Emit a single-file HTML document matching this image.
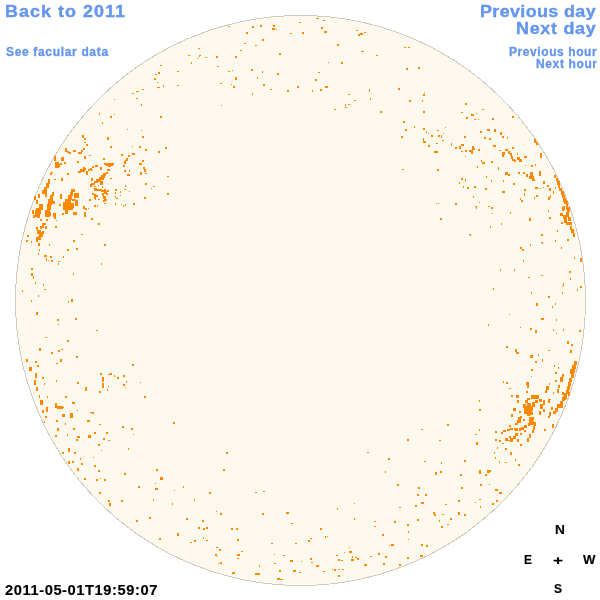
<!DOCTYPE html>
<html><head><meta charset="utf-8">
<style>
html,body{margin:0;padding:0;background:#fff;width:600px;height:600px;overflow:hidden;}
body{position:relative;font-family:"Liberation Sans",sans-serif;font-weight:bold;}
.t{position:absolute;white-space:nowrap;line-height:1;transform-origin:0 0;will-change:transform;}
svg{position:absolute;left:0;top:0;}
</style></head><body>
<svg width="600" height="600" viewBox="0 0 600 600">
<circle cx="300.5" cy="300.5" r="285" fill="#FEF9EE" stroke="#D0CBC0" stroke-width="1" shape-rendering="crispEdges"/>
<path fill="#FF8800" shape-rendering="crispEdges" d="M228 26h2v1h-2zM252 26h2v2h-2zM260 25h2v2h-2zM273 25h2v2h-2zM272 28h3v2h-3zM276 29h1v1h-1zM299 22h2v1h-2zM246 32h2v2h-2zM290 33h2v1h-2zM262 39h2v2h-2zM244 43h2v1h-2zM255 45h2v1h-2zM240 50h2v1h-2zM279 53h2v2h-2zM200 55h1v1h-1zM205 57h2v1h-2zM216 56h2v2h-2zM235 56h2v2h-2zM217 66h2v1h-2zM228 71h2v1h-2zM232 70h1v1h-1zM251 69h2v2h-2zM262 71h1v2h-1zM277 73h2v2h-2zM235 77h2v3h-2zM257 77h1v2h-1zM220 83h2v1h-2zM231 84h1v1h-1zM233 86h2v2h-2zM263 84h2v2h-2zM270 89h2v1h-2zM287 90h2v2h-2zM297 86h2v2h-2zM252 93h1v2h-1zM221 105h1v1h-1zM198 48h2v1h-2zM188 55h2v1h-2zM199 55h1v2h-1zM197 58h1v1h-1zM191 62h1v2h-1zM160 65h2v1h-2zM177 71h2v1h-2zM158 72h2v2h-2zM155 74h2v1h-2zM154 78h2v2h-2zM157 82h1v1h-1zM163 85h1v2h-1zM157 87h3v1h-3zM177 85h2v1h-2zM142 89h2v1h-2zM136 91h3v1h-3zM132 93h2v1h-2zM136 98h2v1h-2zM141 104h1v2h-1zM114 99h1v1h-1zM316 18h3v1h-3zM323 20h2v1h-2zM321 27h2v2h-2zM324 31h3v2h-3zM302 32h2v2h-2zM356 30h2v1h-2zM360 33h3v2h-3zM358 34h2v2h-2zM364 32h2v1h-2zM337 44h2v2h-2zM361 51h3v1h-3zM376 55h2v1h-2zM328 62h1v1h-1zM341 62h2v2h-2zM318 72h2v1h-2zM315 79h2v2h-2zM325 86h3v2h-3zM320 89h2v2h-2zM312 90h1v2h-1zM369 89h1v3h-1zM398 88h2v2h-2zM348 94h2v1h-2zM370 98h1v2h-1zM354 100h2v1h-2zM345 104h1v2h-1zM348 104h2v1h-2zM345 107h2v1h-2zM334 109h2v1h-2zM404 47h2v1h-2zM408 47h2v1h-2zM406 68h2v2h-2zM418 67h2v2h-2zM424 92h1v1h-1zM423 94h2v2h-2zM409 100h2v2h-2zM422 100h1v2h-1zM465 103h2v2h-2zM482 109h2v1h-2zM110 116h2v2h-2zM114 114h1v1h-1zM102 122h1v2h-1zM160 116h2v2h-2zM127 129h1v1h-1zM141 130h1v1h-1zM142 136h2v2h-2zM107 137h2v3h-2zM110 146h2v2h-2zM132 146h1v1h-1zM139 146h2v2h-2zM145 149h2v2h-2zM158 151h2v2h-2zM165 147h2v2h-2zM103 158h2v2h-2zM121 154h2v2h-2zM128 155h2v2h-2zM132 153h3v2h-3zM126 158h2v3h-2zM139 163h3v2h-3zM142 160h2v2h-2zM143 167h2v2h-2zM144 169h2v3h-2zM140 172h2v3h-2zM145 173h2v1h-2zM167 176h2v1h-2zM145 183h2v2h-2zM153 186h2v1h-2zM151 188h1v1h-1zM167 193h2v2h-2zM144 197h2v2h-2zM82 135h2v3h-2zM84 138h2v2h-2zM84 142h2v1h-2zM86 144h2v2h-2zM65 148h2v4h-2zM67 151h2v2h-2zM69 152h2v2h-2zM73 150h3v2h-3zM78 152h4v2h-4zM81 150h2v2h-2zM83 148h2v2h-2zM84 156h2v3h-2zM89 155h2v1h-2zM54 156h2v5h-2zM61 157h3v4h-3zM55 162h4v6h-4zM58 164h2v3h-2zM60 163h2v2h-2zM64 162h2v2h-2zM77 161h2v2h-2zM80 169h3v3h-3zM83 167h2v3h-2zM91 218h2v2h-2zM98 223h2v2h-2zM37 230h4v4h-4zM39 232h4v5h-4zM38 236h3v4h-3zM36 237h2v3h-2zM42 231h2v3h-2zM36 240h2v2h-2zM27 235h2v2h-2zM26 240h2v2h-2zM31 241h1v2h-1zM38 243h2v3h-2zM49 244h1v2h-1zM81 234h2v1h-2zM73 240h2v2h-2zM104 244h2v2h-2zM67 249h2v2h-2zM76 248h2v2h-2zM39 249h1v2h-1zM38 253h1v2h-1zM44 255h3v2h-3zM46 258h1v3h-1zM50 256h2v2h-2zM51 260h2v2h-2zM48 260h1v1h-1zM63 256h1v2h-1zM58 261h2v1h-2zM58 263h1v2h-1zM101 263h1v2h-1zM31 268h2v2h-2zM31 273h2v3h-2zM33 276h1v3h-1zM73 273h1v2h-1zM35 282h1v2h-1zM43 284h1v2h-1zM44 289h2v1h-2zM22 290h1v2h-1zM38 295h1v2h-1zM31 300h1v2h-1zM71 299h2v3h-2zM68 301h1v2h-1zM36 312h2v3h-2zM75 318h2v2h-2zM57 319h2v2h-2zM58 324h1v1h-1zM132 364h2v2h-2zM117 377h2v2h-2zM123 375h2v2h-2zM126 381h1v2h-1zM123 384h2v2h-2zM125 387h1v1h-1zM140 382h1v1h-1zM144 396h2v2h-2zM423 111h2v2h-2zM461 112h2v1h-2zM471 114h3v2h-3zM476 113h1v1h-1zM466 117h2v2h-2zM474 119h2v1h-2zM478 119h1v1h-1zM492 118h2v2h-2zM403 121h2v2h-2zM414 126h1v2h-1zM445 127h1v1h-1zM405 129h2v2h-2zM423 128h2v2h-2zM426 131h1v2h-1zM428 133h1v1h-1zM437 130h2v1h-2zM431 135h2v2h-2zM438 135h2v2h-2zM441 135h1v3h-1zM443 133h1v1h-1zM401 136h2v2h-2zM423 138h1v5h-1zM424 141h2v2h-2zM442 140h2v1h-2zM436 143h2v1h-2zM428 145h2v2h-2zM434 151h4v2h-4zM451 143h1v3h-1zM455 147h2v2h-2zM459 146h2v3h-2zM461 144h3v2h-3zM464 136h2v2h-2zM465 150h2v2h-2zM461 151h2v1h-2zM469 150h4v2h-4zM472 148h3v2h-3zM472 146h2v2h-2zM471 152h2v2h-2zM478 149h2v2h-2zM465 156h1v1h-1zM480 131h2v2h-2zM484 137h2v2h-2zM487 129h3v2h-3zM489 138h2v2h-2zM494 129h2v3h-2zM493 145h3v2h-3zM499 150h1v1h-1zM481 160h1v2h-1zM482 162h3v2h-3zM491 161h2v2h-2zM477 166h1v2h-1zM498 167h1v3h-1zM402 169h2v1h-2zM437 169h2v2h-2zM486 176h1v2h-1zM491 180h1v2h-1zM461 178h2v2h-2zM465 179h1v3h-1zM459 182h1v2h-1zM463 186h1v2h-1zM467 187h2v2h-2zM474 186h2v2h-2zM485 188h2v2h-2zM473 196h1v2h-1zM380 111h2v2h-2zM436 203h1v1h-1zM438 203h1v1h-1zM455 203h2v2h-2zM479 202h1v1h-1zM475 206h2v1h-2zM476 207h1v2h-1zM488 206h2v1h-2zM491 207h2v2h-2zM492 213h1v1h-1zM440 218h2v2h-2zM490 226h1v2h-1zM469 234h2v1h-2zM470 235h1v1h-1zM493 288h1v2h-1zM512 116h2v2h-2zM500 132h2v3h-2zM502 136h2v2h-2zM507 137h1v2h-1zM534 139h2v4h-2zM536 142h2v3h-2zM512 147h2v2h-2zM505 149h3v2h-3zM508 151h2v3h-2zM510 153h2v3h-2zM502 152h3v3h-3zM502 155h2v2h-2zM500 150h1v1h-1zM511 156h2v3h-2zM512 159h3v2h-3zM514 160h2v2h-2zM517 157h3v3h-3zM519 159h3v3h-3zM524 156h3v2h-3zM517 153h1v2h-1zM540 153h2v5h-2zM525 165h1v1h-1zM531 165h2v2h-2zM535 164h1v2h-1zM505 172h3v3h-3zM508 174h2v2h-2zM518 172h2v2h-2zM523 172h2v2h-2zM526 174h2v3h-2zM530 172h3v4h-3zM529 176h5v3h-5zM532 179h3v2h-3zM539 171h2v5h-2zM503 180h1v2h-1zM513 183h2v2h-2zM543 181h2v3h-2zM547 185h2v2h-2zM549 188h2v3h-2zM543 187h1v1h-1zM535 187h3v2h-3zM540 188h1v1h-1zM553 191h1v3h-1zM524 189h2v2h-2zM524 193h1v3h-1zM502 191h3v2h-3zM536 195h2v2h-2zM534 197h1v2h-1zM550 195h1v3h-1zM548 197h2v3h-2zM520 198h1v2h-1zM521 200h2v2h-2zM554 175h2v3h-2zM556 178h2v3h-2zM557 181h3v4h-3zM558 185h2v3h-2zM559 188h3v3h-3zM561 191h3v4h-3zM562 195h3v3h-3zM563 198h3v4h-3zM565 201h3v3h-3zM566 204h2v6h-2zM563 206h2v4h-2zM568 207h2v3h-2zM555 187h1v2h-1zM510 212h1v2h-1zM501 223h1v2h-1zM529 218h2v3h-2zM548 210h1v2h-1zM549 217h2v2h-2zM564 200h3v4h-3zM566 204h2v4h-2zM562 207h2v4h-2zM567 208h3v4h-3zM560 213h3v3h-3zM563 215h4v4h-4zM566 212h3v5h-3zM568 217h3v4h-3zM564 219h3v4h-3zM561 222h2v2h-2zM566 222h3v3h-3zM569 222h3v3h-3zM570 226h2v4h-2zM571 229h3v4h-3zM573 233h2v4h-2zM557 230h1v2h-1zM541 234h2v2h-2zM567 239h2v2h-2zM555 240h1v2h-1zM541 242h2v1h-2zM542 243h1v1h-1zM530 244h1v2h-1zM520 247h2v2h-2zM522 249h2v2h-2zM561 247h1v2h-1zM523 260h1v2h-1zM574 257h1v2h-1zM580 258h2v4h-2zM500 269h1v2h-1zM514 269h1v2h-1zM569 271h2v2h-2zM541 275h2v1h-2zM528 277h2v1h-2zM570 278h1v2h-1zM563 283h1v3h-1zM562 286h1v1h-1zM580 286h2v2h-2zM577 289h1v2h-1zM531 292h1v2h-1zM562 292h1v2h-1zM548 296h2v2h-2zM536 303h2v3h-2zM555 303h1v2h-1zM552 306h1v2h-1zM509 314h1v1h-1zM541 318h3v2h-3zM556 319h1v2h-1zM520 327h1v1h-1zM530 328h2v2h-2zM535 330h2v3h-2zM553 329h1v2h-1zM563 329h1v2h-1zM556 333h1v1h-1zM579 330h2v2h-2zM506 346h2v2h-2zM515 349h2v3h-2zM516 352h3v2h-3zM548 350h2v1h-2zM567 341h2v3h-2zM571 344h2v2h-2zM570 350h2v3h-2zM530 355h3v3h-3zM538 354h1v2h-1zM542 359h1v3h-1zM535 361h2v2h-2zM554 365h1v2h-1zM558 367h1v2h-1zM531 369h2v2h-2zM555 372h2v2h-2zM531 376h1v1h-1zM574 361h3v4h-3zM572 365h4v4h-4zM570 369h4v5h-4zM571 374h3v4h-3zM569 378h3v4h-3zM568 382h3v4h-3zM567 386h3v4h-3zM566 390h3v4h-3zM564 393h3v4h-3zM563 396h3v4h-3zM573 368h2v5h-2zM562 374h2v3h-2zM560 377h3v5h-3zM555 380h2v2h-2zM503 381h1v2h-1zM506 382h2v2h-2zM526 382h3v3h-3zM527 385h2v3h-2zM509 388h2v1h-2zM549 383h1v2h-1zM546 386h3v4h-3zM545 390h2v3h-2zM558 385h2v3h-2zM557 389h2v4h-2zM553 392h1v2h-1zM562 392h2v3h-2zM526 391h2v2h-2zM511 395h2v2h-2zM516 395h3v3h-3zM531 395h8v4h-8zM527 398h3v2h-3zM549 399h2v1h-2zM517 400h2v3h-2zM525 400h3v3h-3zM523 404h3v4h-3zM524 408h3v4h-3zM527 410h4v4h-4zM530 406h3v5h-3zM532 402h3v4h-3zM535 400h3v3h-3zM528 404h3v3h-3zM527 413h3v3h-3zM530 412h3v3h-3zM539 399h3v3h-3zM543 400h2v5h-2zM540 404h3v5h-3zM539 411h2v4h-2zM543 409h2v3h-2zM548 399h2v4h-2zM551 407h2v3h-2zM549 412h2v4h-2zM548 416h2v2h-2zM562 397h3v4h-3zM560 401h3v4h-3zM557 404h4v4h-4zM555 408h3v4h-3zM553 411h3v3h-3zM565 395h2v4h-2zM568 392h2v4h-2zM561 405h2v3h-2zM552 424h2v4h-2zM544 429h2v2h-2zM513 408h3v3h-3zM511 414h2v3h-2zM519 411h2v2h-2zM520 416h2v2h-2zM517 420h4v3h-4zM515 423h3v2h-3zM523 419h2v2h-2zM529 417h3v4h-3zM531 421h3v4h-3zM528 423h2v3h-2zM533 426h2v4h-2zM532 430h2v3h-2zM524 425h3v3h-3zM521 427h3v3h-3zM519 428h2v3h-2zM514 428h3v2h-3zM510 428h3v2h-3zM507 429h3v2h-3zM503 430h3v2h-3zM501 432h2v2h-2zM495 431h2v2h-2zM509 425h2v2h-2zM524 430h2v2h-2zM520 433h2v2h-2zM515 433h3v3h-3zM513 436h3v3h-3zM509 436h2v2h-2zM510 438h3v4h-3zM505 438h3v3h-3zM499 440h2v2h-2zM495 439h2v2h-2zM517 439h2v3h-2zM529 434h2v4h-2zM527 438h2v4h-2zM520 444h2v2h-2zM502 443h2v1h-2zM497 447h1v2h-1zM505 448h2v2h-2zM494 452h1v2h-1zM510 452h2v3h-2zM495 457h1v2h-1zM515 459h1v2h-1zM499 461h1v2h-1zM505 462h2v1h-2zM518 464h2v2h-2zM490 470h1v2h-1zM496 489h1v1h-1zM99 113h1v2h-1zM488 324h1v2h-1zM479 400h1v2h-1zM479 409h2v2h-2zM447 424h2v2h-2zM421 429h2v1h-2zM479 429h1v2h-1zM475 434h2v1h-2zM407 439h2v2h-2zM439 440h2v1h-2zM476 442h2v3h-2zM424 461h2v1h-2zM464 460h2v2h-2zM441 462h1v2h-1zM435 472h2v3h-2zM440 471h2v2h-2zM460 474h2v2h-2zM479 470h2v4h-2zM487 470h3v3h-3zM485 474h2v2h-2zM397 484h2v2h-2zM418 487h2v2h-2zM461 487h2v2h-2zM480 484h2v2h-2zM489 484h1v1h-1zM417 494h2v2h-2zM425 494h2v2h-2zM421 502h3v2h-3zM415 505h2v2h-2zM399 507h2v1h-2zM445 504h2v1h-2zM458 500h2v2h-2zM475 502h1v1h-1zM479 499h2v1h-2zM480 506h1v2h-1zM433 512h2v2h-2zM434 514h2v2h-2zM442 514h2v1h-2zM458 512h2v3h-2zM464 514h2v2h-2zM417 519h2v2h-2zM394 521h2v2h-2zM439 520h1v2h-1zM450 518h2v2h-2zM407 524h2v2h-2zM447 524h2v1h-2zM441 526h2v2h-2zM408 531h1v2h-1zM408 539h1v1h-1zM391 544h3v2h-3zM421 544h2v2h-2zM426 545h2v2h-2zM407 557h2v2h-2zM420 555h3v2h-3zM399 564h2v2h-2zM495 489h3v2h-3zM499 492h3v2h-3zM492 503h2v2h-2zM496 500h2v2h-2zM354 503h1v1h-1zM337 508h1v2h-1zM354 518h1v2h-1zM374 521h2v1h-2zM374 526h2v1h-2zM291 523h2v1h-2zM320 528h2v2h-2zM382 534h2v2h-2zM325 536h1v2h-1zM327 536h1v1h-1zM310 538h2v1h-2zM308 540h2v2h-2zM295 543h2v1h-2zM389 545h1v1h-1zM349 547h1v1h-1zM344 552h1v1h-1zM349 551h3v2h-3zM378 553h2v2h-2zM336 555h2v1h-2zM370 556h2v1h-2zM385 556h2v2h-2zM352 556h1v2h-1zM355 557h2v1h-2zM357 558h2v2h-2zM351 559h3v2h-3zM338 559h2v2h-2zM341 560h2v1h-2zM310 558h2v2h-2zM311 562h2v1h-2zM301 561h1v1h-1zM290 560h3v2h-3zM383 563h2v2h-2zM364 564h3v2h-3zM316 565h3v2h-3zM293 570h3v2h-3zM299 572h2v1h-2zM323 571h2v1h-2zM332 569h1v1h-1zM334 569h2v2h-2zM338 569h2v1h-2zM342 569h2v1h-2zM338 575h2v2h-2zM209 492h2v2h-2zM255 492h2v1h-2zM263 491h2v1h-2zM194 499h1v2h-1zM216 511h1v1h-1zM220 513h2v2h-2zM262 513h2v2h-2zM286 512h3v2h-3zM202 520h2v2h-2zM198 527h2v2h-2zM203 528h2v2h-2zM206 527h2v2h-2zM231 528h2v2h-2zM236 528h2v2h-2zM203 537h1v2h-1zM194 540h2v2h-2zM190 542h2v1h-2zM206 540h2v1h-2zM237 539h2v2h-2zM271 543h2v1h-2zM216 547h2v1h-2zM219 549h2v2h-2zM241 551h2v1h-2zM215 554h2v2h-2zM217 556h1v1h-1zM237 554h3v2h-3zM237 558h2v1h-2zM274 554h1v1h-1zM283 555h2v1h-2zM220 562h2v2h-2zM218 563h1v1h-1zM274 563h2v1h-2zM259 565h1v2h-1zM279 570h2v2h-2zM232 572h3v2h-3zM255 573h5v2h-5zM277 578h3v2h-3zM280 579h3v1h-3zM108 440h2v1h-2zM98 444h2v2h-2zM128 448h1v2h-1zM101 450h1v1h-1zM93 457h1v1h-1zM94 465h2v2h-2zM98 470h2v2h-2zM124 473h2v2h-2zM156 469h2v2h-2zM160 477h3v3h-3zM96 479h2v2h-2zM100 478h1v1h-1zM104 479h2v2h-2zM138 486h2v2h-2zM155 483h1v1h-1zM155 488h3v2h-3zM183 486h1v2h-1zM174 490h1v1h-1zM99 492h2v2h-2zM108 500h2v2h-2zM109 503h2v3h-2zM121 500h2v2h-2zM153 499h1v2h-1zM172 503h1v2h-1zM149 517h2v2h-2zM136 520h2v2h-2zM186 518h2v2h-2zM177 533h2v3h-2zM159 538h2v2h-2zM96 330h2v1h-2zM45 337h2v1h-2zM67 340h2v2h-2zM39 348h2v3h-2zM51 352h2v2h-2zM58 350h2v2h-2zM61 349h2v1h-2zM76 356h2v2h-2zM26 359h2v3h-2zM35 361h2v2h-2zM37 365h2v2h-2zM60 359h2v3h-2zM56 363h2v1h-2zM29 367h3v4h-3zM35 373h2v5h-2zM42 377h2v2h-2zM34 380h2v5h-2zM36 387h2v4h-2zM44 383h1v2h-1zM56 380h1v2h-1zM77 382h2v2h-2zM100 373h2v2h-2zM110 373h2v2h-2zM108 374h2v1h-2zM114 375h1v2h-1zM102 377h2v5h-2zM102 383h2v5h-2zM108 386h1v1h-1zM107 389h1v2h-1zM85 387h2v4h-2zM99 391h2v2h-2zM39 395h1v3h-1zM47 396h1v2h-1zM65 396h2v2h-2zM40 400h3v5h-3zM55 403h2v5h-2zM57 406h6v3h-6zM63 407h1v1h-1zM72 402h3v2h-3zM46 407h2v5h-2zM42 410h2v3h-2zM77 410h1v1h-1zM62 414h3v3h-3zM70 413h3v5h-3zM90 412h2v1h-2zM92 412h2v2h-2zM45 416h2v2h-2zM56 420h2v2h-2zM87 420h3v2h-3zM65 423h1v2h-1zM99 424h2v1h-2zM44 421h1v2h-1zM57 428h2v3h-2zM73 428h2v2h-2zM122 426h2v2h-2zM131 428h2v2h-2zM55 435h2v2h-2zM67 434h1v2h-1zM77 436h3v2h-3zM76 439h2v2h-2zM88 435h3v3h-3zM94 432h2v2h-2zM106 432h2v2h-2zM103 438h2v2h-2zM133 434h1v1h-1zM62 452h2v2h-2zM68 448h2v4h-2zM74 452h2v2h-2zM80 458h1v2h-1zM68 461h2v3h-2zM72 461h2v2h-2zM81 463h2v2h-2zM77 468h2v3h-2zM84 478h2v2h-2zM173 422h2v2h-2zM226 452h2v2h-2zM223 469h2v2h-2zM367 452h2v1h-2zM388 458h2v2h-2zM385 471h1v2h-1zM50 173h2v2h-2zM51 172h2v1h-2zM54 179h2v1h-2zM61 178h2v3h-2zM67 173h2v2h-2zM48 179h2v5h-2zM46 183h3v5h-3zM44 187h3v5h-3zM42 190h4v4h-4zM45 192h2v5h-2zM52 192h2v4h-2zM50 195h3v5h-3zM48 199h4v6h-4zM47 204h4v6h-4zM45 210h5v7h-5zM48 212h3v4h-3zM50 200h3v4h-3zM39 204h4v6h-4zM36 208h5v6h-5zM35 210h4v7h-4zM37 214h3v4h-3zM41 205h2v3h-2zM32 210h2v4h-2zM33 215h2v3h-2zM38 194h2v4h-2zM36 200h2v4h-2zM34 196h2v4h-2zM53 201h2v3h-2zM53 213h3v4h-3zM54 217h2v2h-2zM56 220h1v1h-1zM60 194h2v5h-2zM59 204h2v2h-2zM62 213h1v2h-1zM40 219h2v2h-2zM46 219h2v2h-2zM42 223h2v5h-2zM40 226h2v3h-2zM44 223h2v2h-2zM45 226h2v3h-2zM36 227h2v3h-2zM55 226h2v2h-2zM71 189h4v3h-4zM70 192h3v4h-3zM74 193h5v5h-5zM68 195h4v5h-4zM65 199h6v5h-6zM63 202h7v8h-7zM65 210h3v4h-3zM70 203h4v5h-4zM72 199h4v2h-4zM75 200h3v6h-3zM73 212h4v3h-4zM70 208h3v2h-3zM62 213h2v2h-2zM83 206h2v3h-2zM84 212h2v5h-2zM78 171h3v2h-3zM82 170h3v2h-3zM525 406h5v6h-5zM527 403h4v3h-4zM529 408h3v4h-3zM524 410h4v4h-4zM532 404h3v3h-3zM104 163h10v2h-10zM106 165h7v1h-7zM108 166h3v1h-3zM125 160h1v1h-1zM124 161h2v3h-2zM123 165h2v2h-2zM85 168h1v2h-1zM86 171h2v4h-2zM88 169h2v2h-2zM90 168h2v2h-2zM92 166h2v2h-2zM91 170h2v1h-2zM95 165h3v2h-3zM100 167h2v3h-2zM107 169h3v2h-3zM106 172h2v2h-2zM103 173h3v3h-3zM101 175h4v3h-4zM99 177h4v3h-4zM96 179h5v3h-5zM94 181h4v2h-4zM91 183h4v2h-4zM90 184h3v2h-3zM102 176h2v4h-2zM91 178h2v3h-2zM100 181h3v4h-3zM110 178h2v1h-2zM90 186h2v1h-2zM94 186h2v1h-2zM98 185h1v1h-1zM102 186h1v2h-1zM94 188h3v3h-3zM97 189h5v2h-5zM101 190h3v2h-3zM104 191h3v3h-3zM106 193h2v2h-2zM104 189h2v2h-2zM107 190h2v2h-2zM92 193h2v2h-2zM102 193h2v3h-2zM103 196h3v3h-3zM104 199h3v2h-3zM103 200h2v2h-2zM104 203h2v1h-2zM94 194h2v2h-2zM96 195h2v2h-2zM94 196h2v3h-2zM95 198h1v2h-1zM89 199h2v2h-2zM98 199h2v1h-2zM94 205h2v2h-2zM97 205h1v2h-1zM85 208h2v2h-2zM88 208h1v1h-1zM115 189h2v2h-2zM115 192h1v2h-1zM120 191h1v2h-1zM115 196h1v2h-1zM116 198h2v1h-2zM120 195h1v1h-1zM125 185h1v2h-1zM124 189h2v1h-2zM129 191h1v1h-1zM124 170h2v2h-2zM129 170h1v2h-1zM127 174h3v2h-3zM115 203h1v2h-1zM121 204h1v1h-1zM123 205h1v2h-1zM125 204h1v2h-1zM133 203h2v2h-2zM529 420h4v5h-4zM531 417h3v3h-3zM534 422h2v4h-2zM518 417h3v3h-3zM515 428h3v3h-3zM520 433h2v1h-2zM507 440h3v1h-3zM505 439h2v2h-2z"/>
</svg>
<div class="t" style="left:5.0px;top:4.0px;font-size:16px;color:#6495ED;letter-spacing:0.932px;-webkit-text-stroke:0.35px currentColor;transform:scale(1.12,1.0)">Back to 2011</div>
<div class="t" style="left:6.0px;top:46.0px;font-size:12px;color:#6495ED;letter-spacing:0.667px;-webkit-text-stroke:0.3px currentColor;transform:scale(1.0,1.0)">See facular data</div>
<div class="t" style="left:480.0px;top:3.0px;font-size:16px;color:#6495ED;letter-spacing:0.334px;-webkit-text-stroke:0.35px currentColor;transform:scale(1.12,1.0667)">Previous day</div>
<div class="t" style="left:516.0px;top:20.0px;font-size:16px;color:#6495ED;letter-spacing:0.648px;-webkit-text-stroke:0.35px currentColor;transform:scale(1.12,1.0667)">Next day</div>
<div class="t" style="left:509.0px;top:46.0px;font-size:12px;color:#6495ED;letter-spacing:0.583px;-webkit-text-stroke:0.3px currentColor;transform:scale(1.0,1.0)">Previous hour</div>
<div class="t" style="left:536.0px;top:58.0px;font-size:12px;color:#6495ED;letter-spacing:0.625px;-webkit-text-stroke:0.3px currentColor;transform:scale(1.0,1.0)">Next hour</div>
<div class="t" style="left:5.0px;top:583.0px;font-size:14px;color:#000;letter-spacing:0.542px;-webkit-text-stroke:0.15px currentColor;transform:scale(1.05,1.0)">2011-05-01T19:59:07</div>
<div class="t" style="left:555.0px;top:524.0px;font-size:12px;color:#000;letter-spacing:0.0px;-webkit-text-stroke:0.15px currentColor;transform:scale(1.1429,1.0)">N</div>
<div class="t" style="left:524.0px;top:554.0px;font-size:12px;color:#000;letter-spacing:0.0px;-webkit-text-stroke:0.15px currentColor;transform:scale(1.0,1.0)">E</div>
<div class="t" style="left:553.0px;top:555.0px;font-size:12px;color:#000;letter-spacing:0.0px;-webkit-text-stroke:0.15px currentColor;transform:scale(1.4286,1.0)">+</div>
<div class="t" style="left:583.0px;top:554.0px;font-size:12px;color:#000;letter-spacing:0.0px;-webkit-text-stroke:0.15px currentColor;transform:scale(1.0974,1.0)">W</div>
<div class="t" style="left:554.0px;top:582.0px;font-size:12px;color:#000;letter-spacing:0.0px;-webkit-text-stroke:0.15px currentColor;transform:scale(1.0,1.1111)">S</div>
</body></html>
